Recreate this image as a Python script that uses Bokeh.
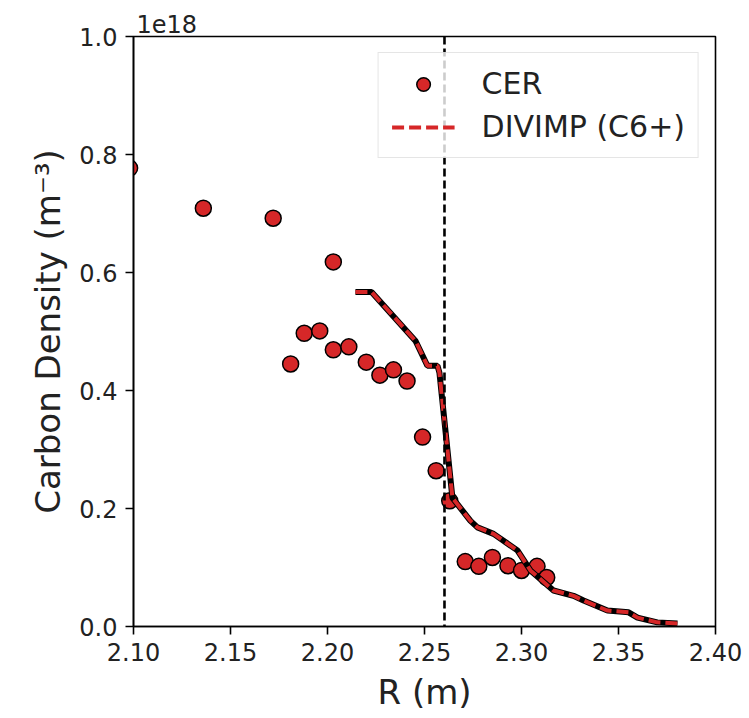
from bokeh.plotting import figure
from bokeh.models import Span, FixedTicker, Range1d, Legend
from bokeh.embed import file_html
from bokeh.resources import INLINE

# CER measurements (R in m, density in units of 1e18 m^-3)
cer_r = [2.098, 2.136, 2.172, 2.203, 2.181, 2.188, 2.196, 2.203, 2.211, 2.220,
         2.227, 2.234, 2.241, 2.249, 2.256, 2.263, 2.271, 2.278, 2.285, 2.293,
         2.300, 2.308, 2.313]
cer_density = [0.777, 0.709, 0.692, 0.618, 0.445, 0.497, 0.501, 0.469, 0.474, 0.448,
               0.426, 0.435, 0.416, 0.321, 0.264, 0.213, 0.110, 0.102, 0.117, 0.103,
               0.095, 0.102, 0.083]

# DIVIMP (C6+) profile
divimp_r = [2.2144, 2.2227, 2.2454, 2.2515, 2.2567, 2.2577, 2.2644, 2.2737, 2.2773,
            2.2856, 2.2979, 2.3046, 2.3165, 2.3268, 2.3320, 2.3443, 2.3552, 2.3598,
            2.3700, 2.3804]
divimp_density = [0.567, 0.567, 0.484, 0.442, 0.442, 0.430, 0.218, 0.179, 0.168,
                  0.157, 0.129, 0.095, 0.061, 0.052, 0.044, 0.027, 0.024, 0.015,
                  0.007, 0.005]

separatrix_r = 2.2603
x_ticks = [2.10, 2.15, 2.20, 2.25, 2.30, 2.35, 2.40]
y_ticks = [0.0, 0.2, 0.4, 0.6, 0.8, 1.0]
scale_label = "1e18"

RED = "#d62728"
FONT = "DejaVu Sans"

p = figure(width=749, height=718, output_backend="svg", toolbar_location=None,
           x_range=Range1d(2.10, 2.40), y_range=Range1d(0.0, 1.0),
           min_border_left=133, min_border_right=34, min_border_top=36, min_border_bottom=92,
           title=scale_label)
p.title.align = "left"
p.title.text_font = FONT
p.title.text_font_size = "24px"
p.title.text_font_style = "normal"
p.title.text_color = "#222222"
p.title.offset = 3
p.title.standoff = 7
p.background_fill_color = "white"
p.border_fill_color = "white"
p.outline_line_color = "black"
p.outline_line_width = 1.6
p.grid.visible = False

for ax in (p.xaxis[0], p.yaxis[0]):
    ax.axis_line_width = 1.6
    ax.axis_line_color = "black"
    ax.major_tick_line_width = 1.6
    ax.major_tick_line_color = "black"
    ax.major_tick_out = 8
    ax.major_tick_in = 0
    ax.minor_tick_line_color = None
    ax.major_label_text_font = FONT
    ax.major_label_text_font_size = "24px"
    ax.major_label_text_color = "#222222"
    ax.major_label_standoff = 8
    ax.axis_label_text_font = FONT
    ax.axis_label_text_font_size = "34px"
    ax.axis_label_text_font_style = "normal"
    ax.axis_label_text_color = "#222222"
    ax.axis_label_standoff = 8

p.xaxis.ticker = FixedTicker(ticks=x_ticks)
p.yaxis.ticker = FixedTicker(ticks=y_ticks)
p.xaxis.major_label_overrides = {t: f"{t:.2f}" for t in x_ticks}
p.yaxis.major_label_overrides = {t: f"{t:.1f}" for t in y_ticks}
p.xaxis.axis_label = "R (m)"
p.yaxis.axis_label = "Carbon Density (m⁻³)"

# separatrix line
p.add_layout(Span(location=separatrix_r, dimension="height", line_color="black",
                  line_width=2.6, line_dash="8 4"))

# glyphs
cer = p.scatter(cer_r, cer_density, size=16, fill_color=RED, line_color="black",
                line_width=1.5, marker="circle")
p.line(divimp_r, divimp_density, line_color="black", line_width=6)
div = p.line(divimp_r, divimp_density, line_color=RED, line_width=4, line_dash="12 5")

legend = Legend(items=[("CER", [cer]), ("DIVIMP (C6+)", [div])], location="top_right")
legend.margin = 16
legend.padding = 13
legend.spacing = 8
legend.glyph_width = 63
legend.glyph_height = 34
legend.label_height = 34
legend.label_standoff = 27
legend.label_text_font = FONT
legend.label_text_font_size = "30px"
legend.label_text_color = "#222222"
legend.border_line_color = "#cccccc"
legend.border_line_width = 1.2
legend.background_fill_alpha = 0.8
p.add_layout(legend)

open("out.html", "w").write(file_html(p, INLINE))
